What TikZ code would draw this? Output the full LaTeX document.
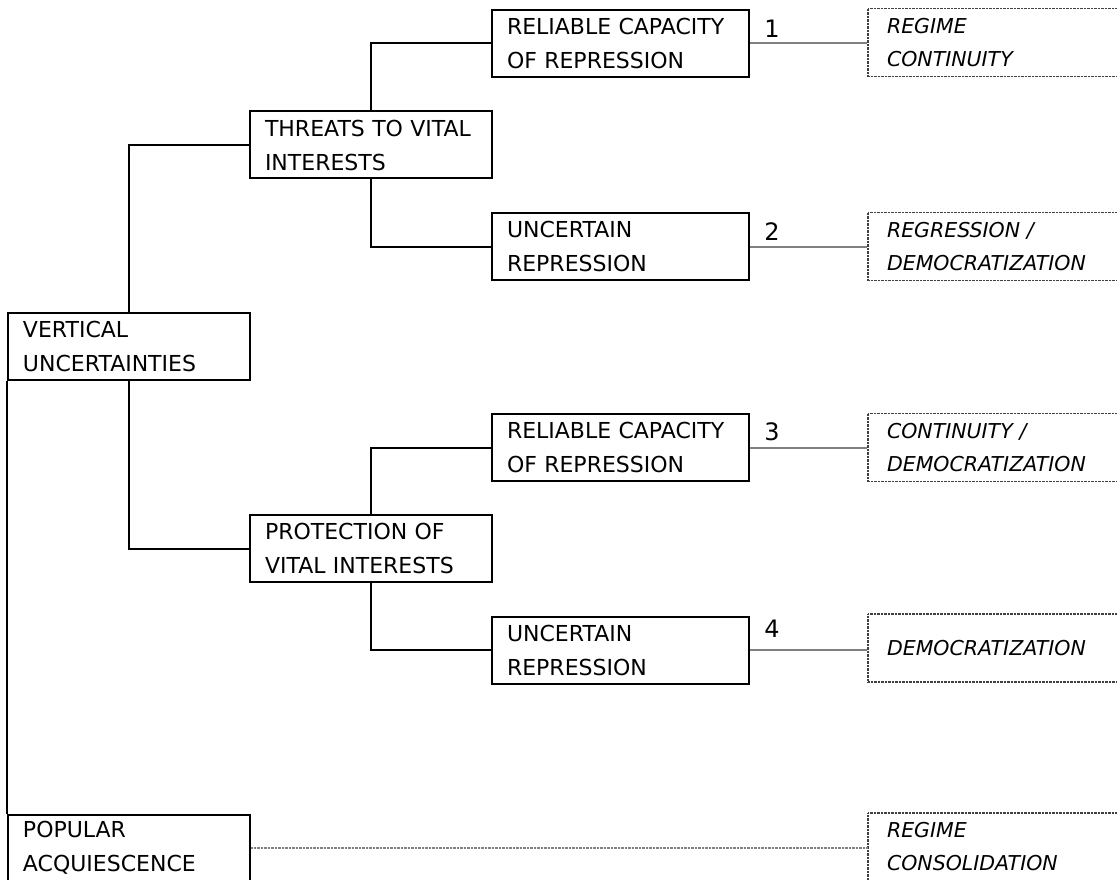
\documentclass[tikz,border=0pt]{standalone}
\usepackage{fontspec}
\setmainfont{DejaVu Sans}
\usetikzlibrary{positioning}

\tikzset{
	choice/.style={draw, line width=2pt, align=left, inner xsep=15pt, inner ysep=0pt, minimum height=67pt, font=\fontsize{22}{34}\selectfont},
	wide/.style={choice, text width=227pt},
	narrow/.style={choice, text width=212pt},
	outcome/.style={draw=black!75, line width=1.2pt, dash pattern=on 0.9pt off 0.5pt, align=left, inner xsep=19pt, inner ysep=0pt, text width=219pt, minimum height=68pt, font=\fontsize{20.5}{33}\selectfont\itshape},
	branch/.style={line width=2pt},
	result/.style={draw=black!50, line width=2pt},
	numlbl/.style={font=\fontsize{24}{28}\selectfont, inner sep=0pt}
}

\begin{document}
\begin{tikzpicture}[x=1pt,y=1pt,yscale=-1,xscale=1]

	\useasboundingbox (0,0) rectangle (1117,880);
	\clip (0,0) rectangle (1117,880);

	\node [narrow] (verti) at (129,346.5) {VERTICAL\\UNCERTAINTIES};
	\node [narrow] (popul) at (129,848) {POPULAR\\ACQUIESCENCE};
	\node [narrow] (threat) at (371,145) {THREATS TO VITAL\\INTERESTS};
	\node [narrow] (protect) at (371,548.5) {PROTECTION OF\\VITAL INTERESTS};
	\node [wide] (relyA) at (620.5,43.5) {RELIABLE CAPACITY\\OF REPRESSION};
	\node [wide] (uncA) at (620.5,246.5) {UNCERTAIN\\REPRESSION};
	\node [wide] (relyB) at (620.5,447.5) {RELIABLE CAPACITY\\OF REPRESSION};
	\node [wide] (uncB) at (620.5,650) {UNCERTAIN\\REPRESSION};

	\node [outcome] (outA) at (996.5,42.5) {REGIME\\CONTINUITY};
	\node [outcome] (outB) at (996.5,246.5) {REGRESSION /\\DEMOCRATIZATION};
	\node [outcome] (outC) at (996.5,447.5) {CONTINUITY /\\DEMOCRATIZATION};
	\node [outcome] (outD) at (996.5,648) {DEMOCRATIZATION};
	\node [outcome] (outE) at (996.5,847) {REGIME\\CONSOLIDATION};

	\node [numlbl] (numA) at (772,29) {1};
	\node [numlbl] (numB) at (772,232) {2};
	\node [numlbl] (numC) at (772,432) {3};
	\node [numlbl] (numD) at (772,629) {4};

	\draw [branch] (verti.north) |- (threat.west);
	\draw [branch] (verti.south) |- (protect.west);
	\draw [branch] (verti.south west) -- (popul.north west);
	\draw [branch] (threat.north) |- (relyA.west);
	\draw [branch] (threat.south) |- (uncA.west);
	\draw [branch] (protect.north) |- (relyB.west);
	\draw [branch] (protect.south) |- (uncB.west);

	\draw [result] (relyA.east) -- (relyA.east -| outA.west);
	\draw [result] (uncA.east) -- (uncA.east -| outB.west);
	\draw [result] (relyB.east) -- (relyB.east -| outC.west);
	\draw [result] (uncB.east) -- (uncB.east -| outD.west);
	\draw [result, line width=1.2pt, dash pattern=on 0.9pt off 0.5pt] (popul.east) -- (popul.east -| outE.west);

\end{tikzpicture}
\end{document}
